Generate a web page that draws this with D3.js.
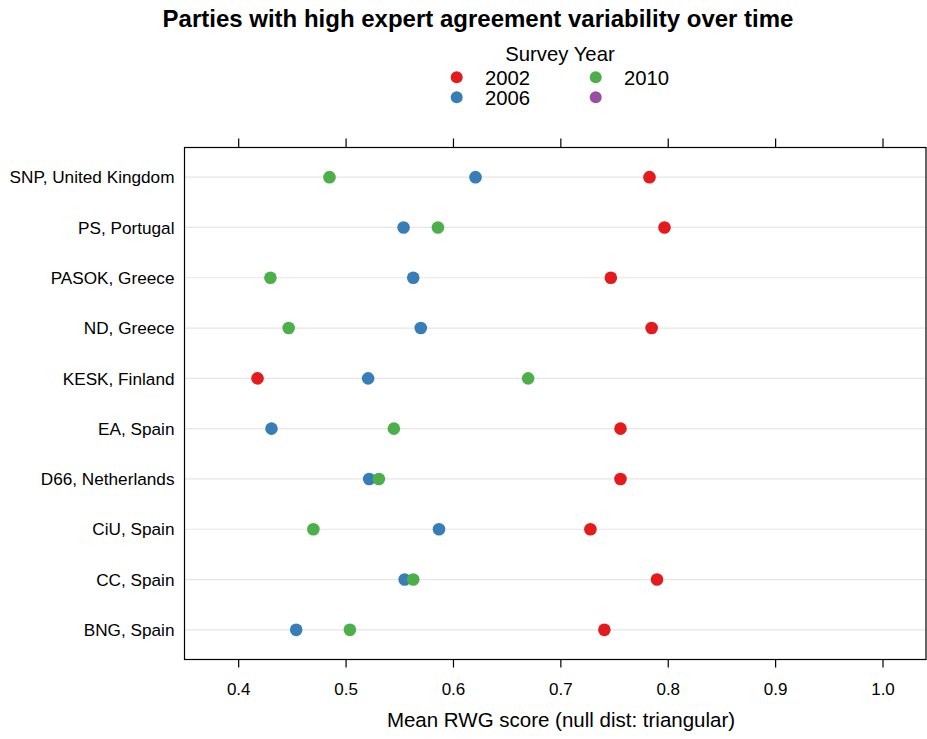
<!DOCTYPE html>
<html>
<head>
<meta charset="utf-8">
<script src="https://cdn.jsdelivr.net/npm/d3@7"></script>
<style>
  body { margin: 0; background: #fff; }
  svg { font-family: "Liberation Sans", Arial, sans-serif; }
  .grid { stroke: #e6e6e6; stroke-width: 1.2; }
</style>
</head>
<body>
<div id="chart"></div>
<script>
// party labels, top to bottom
let parties = ['SNP, United Kingdom', 'PS, Portugal', 'PASOK, Greece', 'ND, Greece', 'KESK, Finland',
               'EA, Spain', 'D66, Netherlands', 'CiU, Spain', 'CC, Spain', 'BNG, Spain'];
let years = ['2002', '2006', '2010', ''];
let yearColors = ['#E41A1C', '#377EB8', '#4DAF4A', '#984EA3'];
// mean RWG per party, same order as parties
let rwg2002 = [0.783, 0.797, 0.747, 0.785, 0.418, 0.756, 0.756, 0.728, 0.790, 0.741];
let rwg2006 = [0.621, 0.554, 0.563, 0.570, 0.521, 0.431, 0.522, 0.587, 0.555, 0.454];
let rwg2010 = [0.485, 0.586, 0.430, 0.447, 0.670, 0.545, 0.531, 0.470, 0.563, 0.504];
let xTicks = [0.4, 0.5, 0.6, 0.7, 0.8, 0.9, 1.0];

let W = 927, H = 739;
let box = {l: 184.5, r: 926, t: 147.5, b: 659.5};

let svg = d3.select('#chart').append('svg')
    .attr('width', W).attr('height', H);

let x = d3.scaleLinear().domain([0.35, 1.0405]).range([box.l, box.r]);
let y = d3.scalePoint().domain(parties).range([box.t, box.b]).padding(0.59);

//title
svg.append('text')
    .attr('x', 478).attr('y', 27.3)
    .attr('text-anchor', 'middle')
    .style('font-size', '24px').style('font-weight', 'bold')
    .text('Parties with high expert agreement variability over time');

//legend
let legend = svg.append('g');
legend.append('text')
    .attr('x', 560).attr('y', 60.5)
    .attr('text-anchor', 'middle')
    .style('font-size', '20.3px')
    .text('Survey Year');
let legendItems = years.map((yr, i) => ({yr: yr, color: yearColors[i], col: Math.floor(i / 2), row: i % 2}));
legend.selectAll('circle')
    .data(legendItems)
    .join('circle')
    .attr('cx', d => 456.7 + d.col * 139)
    .attr('cy', d => 77.3 + d.row * 20)
    .attr('r', 6)
    .attr('fill', d => d.color);
legend.selectAll('.legLabel')
    .data(legendItems)
    .join('text')
    .classed('legLabel', true)
    .attr('x', d => 485 + d.col * 139)
    .attr('y', d => 85 + d.row * 20)
    .style('font-size', '20.3px')
    .text(d => d.yr);

//grid lines
svg.append('g').selectAll('line')
    .data(parties)
    .join('line')
    .classed('grid', true)
    .attr('x1', box.l).attr('x2', box.r)
    .attr('y1', d => y(d)).attr('y2', d => y(d));

//points
let series = [rwg2002, rwg2006, rwg2010];
series.forEach((vals, si) => {
    svg.append('g').selectAll('circle')
        .data(vals)
        .join('circle')
        .attr('cx', d => x(d))
        .attr('cy', (d, i) => y(parties[i]))
        .attr('r', 6.3)
        .attr('fill', yearColors[si]);
});

//box
svg.append('rect')
    .attr('x', box.l).attr('y', box.t)
    .attr('width', box.r - box.l).attr('height', box.b - box.t)
    .attr('fill', 'none').attr('stroke', '#000').attr('stroke-width', 1.2);

//axes
let bottomAxis = d3.axisBottom(x).tickValues(xTicks).tickFormat(d3.format('.1f'))
    .tickSizeInner(8).tickSizeOuter(0).tickPadding(15);
let gb = svg.append('g').attr('transform', `translate(0, ${box.b})`).call(bottomAxis);
gb.select('.domain').remove();
gb.selectAll('text').style('font-size', '17px').style('font-family', '"Liberation Sans", Arial, sans-serif');

let topAxis = d3.axisTop(x).tickValues(xTicks).tickFormat('').tickSizeInner(9).tickSizeOuter(0);
let gt = svg.append('g').attr('transform', `translate(0, ${box.t})`).call(topAxis);
gt.select('.domain').remove();
svg.selectAll('.tick line').attr('stroke-width', 1.2);

//party labels
svg.append('g').selectAll('text')
    .data(parties)
    .join('text')
    .attr('x', 174.5)
    .attr('y', d => y(d))
    .attr('dy', '0.36em')
    .attr('text-anchor', 'end')
    .style('font-size', '17.2px')
    .text(d => d);

//x label
svg.append('text')
    .attr('x', 561).attr('y', 726.5)
    .attr('text-anchor', 'middle')
    .style('font-size', '20.5px')
    .text('Mean RWG score (null dist: triangular)');
</script>
</body>
</html>
